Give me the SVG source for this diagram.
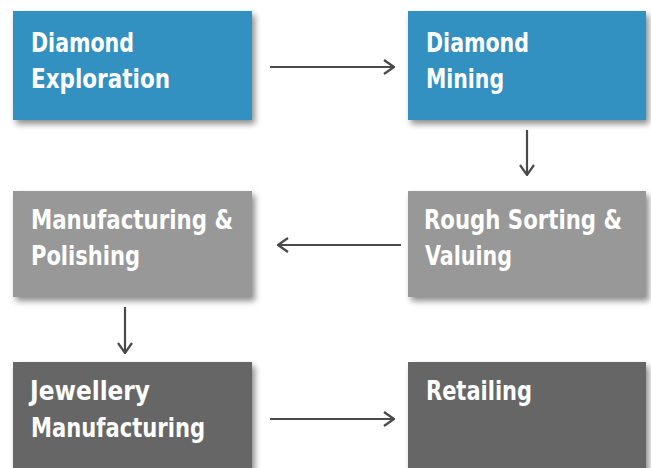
<svg xmlns="http://www.w3.org/2000/svg" width="651" height="468" viewBox="0 0 651 468">
<style>
.t{font-family:"DejaVu Sans Condensed","DejaVu Sans",sans-serif;font-weight:bold;font-size:27px;fill:#ffffff}
.b1{fill:#3391c1}.b2{fill:#989898}.b3{fill:#666666}
.c{stroke:#4a4a4a;stroke-width:2.2;fill:none}
</style>
<defs>
<filter id="sh" x="-10%" y="-10%" width="125%" height="130%">
<feGaussianBlur in="SourceAlpha" stdDeviation="3"/>
<feOffset dx="3" dy="4" result="o"/>
<feComponentTransfer><feFuncA type="linear" slope="0.45"/></feComponentTransfer>
<feMerge><feMergeNode/><feMergeNode in="SourceGraphic"/></feMerge>
</filter>
<marker id="ah" viewBox="0 0 12 16" refX="11" refY="8" markerWidth="12" markerHeight="16" markerUnits="userSpaceOnUse" orient="auto">
<path d="M1,1 L11,8 L1,15" fill="none" stroke="#4a4a4a" stroke-width="2.2"/>
</marker>
</defs>
<g id="n1"><rect class="b1" x="13" y="11" width="239" height="109" filter="url(#sh)"/><text class="t" x="31" y="52" textLength="103" lengthAdjust="spacingAndGlyphs">Diamond</text><text class="t" x="31" y="88" textLength="139" lengthAdjust="spacingAndGlyphs">Exploration</text></g>
<g id="n2"><rect class="b1" x="408" y="11" width="238" height="109" filter="url(#sh)"/><text class="t" x="426" y="52" textLength="103" lengthAdjust="spacingAndGlyphs">Diamond</text><text class="t" x="426" y="88" textLength="78" lengthAdjust="spacingAndGlyphs">Mining</text></g>
<g id="n3"><rect class="b2" x="13" y="191" width="239" height="106" filter="url(#sh)"/><text class="t" x="31" y="229" textLength="202" lengthAdjust="spacingAndGlyphs">Manufacturing &amp;</text><text class="t" x="31" y="265" textLength="109" lengthAdjust="spacingAndGlyphs">Polishing</text></g>
<g id="n4"><rect class="b2" x="408" y="191" width="238" height="106" filter="url(#sh)"/><text class="t" x="424" y="229" textLength="198" lengthAdjust="spacingAndGlyphs">Rough Sorting &amp;</text><text class="t" x="425" y="265" textLength="87" lengthAdjust="spacingAndGlyphs">Valuing</text></g>
<g id="n5"><rect class="b3" x="13" y="362" width="239" height="110" filter="url(#sh)"/><text class="t" x="30" y="400" textLength="120" lengthAdjust="spacingAndGlyphs">Jewellery</text><text class="t" x="31" y="437" textLength="174" lengthAdjust="spacingAndGlyphs">Manufacturing</text></g>
<g id="n6"><rect class="b3" x="408" y="362" width="238" height="110" filter="url(#sh)"/><text class="t" x="426" y="400" textLength="106" lengthAdjust="spacingAndGlyphs">Retailing</text></g>
<g id="connectors">
<line class="c" x1="270" y1="67" x2="394" y2="67" marker-end="url(#ah)"/>
<line class="c" x1="527" y1="130" x2="527" y2="175" marker-end="url(#ah)"/>
<line class="c" x1="401" y1="245" x2="278" y2="245" marker-end="url(#ah)"/>
<line class="c" x1="125" y1="307" x2="125" y2="353" marker-end="url(#ah)"/>
<line class="c" x1="270" y1="419" x2="394" y2="419" marker-end="url(#ah)"/>
</g>
</svg>
